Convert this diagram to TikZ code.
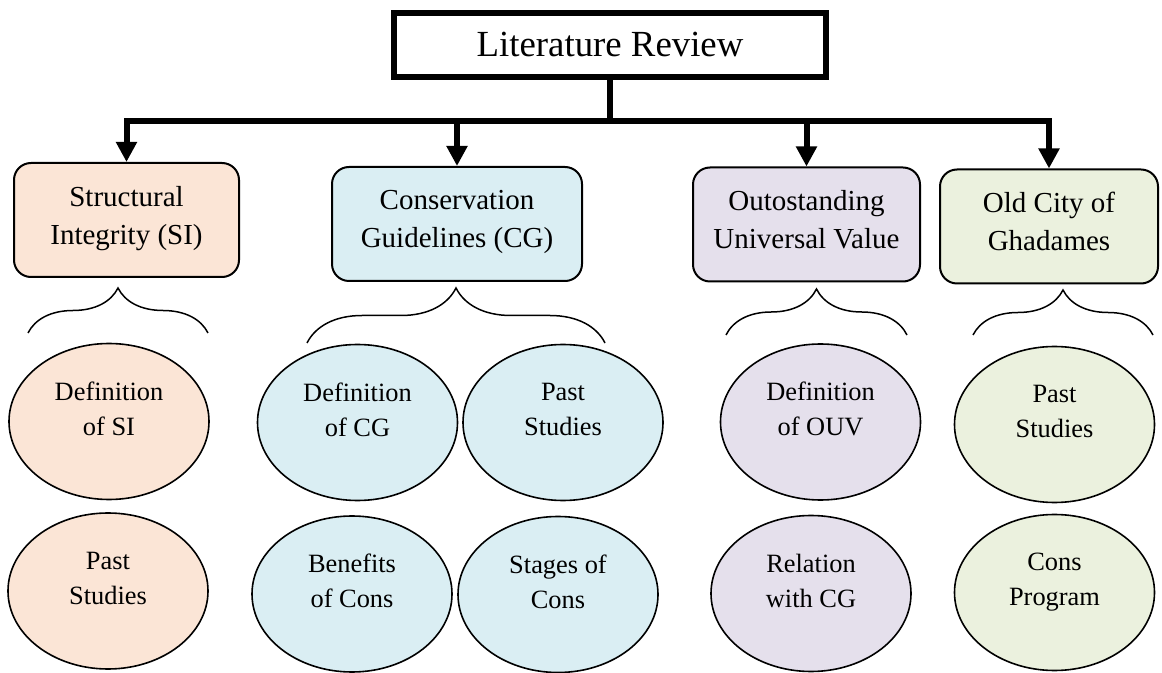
\documentclass[tikz,border=0pt]{standalone}
\usepackage{fontspec}
\setmainfont{Liberation Serif}
\usetikzlibrary{arrows.meta,shapes.geometric,decorations.pathreplacing}

\definecolor{siorange}{HTML}{FBE5D6}
\definecolor{cgblue}{HTML}{DAEEF3}
\definecolor{ouvpurple}{HTML}{E5E0EC}
\definecolor{ghgreen}{HTML}{EBF1DE}

\tikzset{
  topic/.style = {draw, rounded corners = 8.5pt, line width = 1pt, minimum height = 57pt,
                  align = center, text depth = 5pt, font = \fontsize{14.5}{19}\selectfont},
  item/.style  = {draw, ellipse, line width = 0.8pt, minimum width = 100pt, minimum height = 78pt,
                  inner sep = 0pt, align = center, text depth = 13pt, font = \fontsize{13.2}{17.5}\selectfont},
  feed/.style  = {line width = 3pt, -{Triangle[width = 10pt, length = 10pt]}},
  group/.style = {decorate, decoration = {brace, amplitude = #1}, line width = 0.75pt}
}

\begin{document}
\begin{tikzpicture}[x = 0.5pt, y = -0.5pt]
    \useasboundingbox (0,0) rectangle (1162,673);

    \node[draw, line width = 3pt, minimum width = 216pt, minimum height = 32pt,
          font = \fontsize{18.4}{22}\selectfont] (review) at (610,45) {Literature Review};
    \coordinate (bar) at (610,121);

    \node[topic, fill = siorange, minimum width = 112.5pt] (si) at (126.5,220) {Structural\\Integrity (SI)};
    \node[topic, fill = cgblue, minimum width = 125pt] (cg) at (457,224) {Conservation\\Guidelines (CG)};
    \node[topic, fill = ouvpurple, minimum width = 113.5pt] (ouv) at (806.5,224.5) {Outostanding\\Universal Value};
    \node[topic, fill = ghgreen, minimum width = 109pt] (gh) at (1049,226.5) {Old City of\\Ghadames};

    \draw[line width = 3pt] (review.south) -- (bar);
    \draw[feed] (bar) -| (si.north);
    \draw[feed] (bar) -| (cg.north);
    \draw[feed] (bar) -| (ouv.north);
    \draw[feed] (bar) -| (gh.north);

    % braces under the topics
    \draw[group = 22.5pt] (28,333) -- (208,333);
    \draw[group = 27.5pt] (307,343) -- (605,343);
    \draw[group = 23pt] (726,335) -- (907,335);
    \draw[group = 22.5pt] (973,335) -- (1153,335);

    \node[item, fill = siorange] (sidef) at (109,421.5) {Definition\\of SI};
    \node[item, fill = siorange] (sipast) at (108,591) {Past\\Studies};

    \node[item, fill = cgblue] (cgdef) at (357.5,422.5) {Definition\\of CG};
    \node[item, fill = cgblue] (cgpast) at (563,422.5) {Past\\Studies};
    \node[item, fill = cgblue] (cgbenefit) at (352,594) {Benefits\\of Cons};
    \node[item, fill = cgblue] (cgstage) at (558,594.5) {Stages of\\Cons};

    \node[item, fill = ouvpurple] (ouvdef) at (820.5,422) {Definition\\of OUV};
    \node[item, fill = ouvpurple] (ouvrel) at (811,593.5) {Relation\\with CG};

    \node[item, fill = ghgreen] (ghpast) at (1054.5,424.5) {Past\\Studies};
    \node[item, fill = ghgreen] (ghprog) at (1054.5,592.5) {Cons\\Program};
\end{tikzpicture}
\end{document}
